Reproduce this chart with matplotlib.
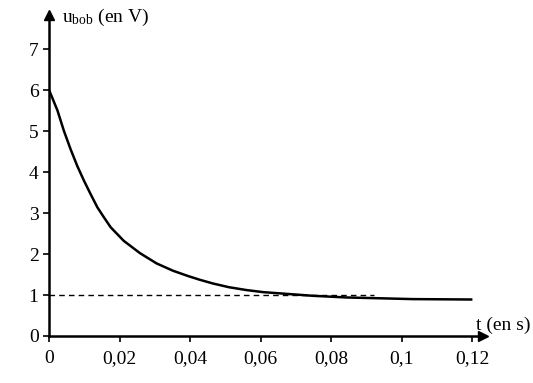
import matplotlib
matplotlib.use("Agg")
import matplotlib.pyplot as plt

plt.rcParams['font.family'] = ['Liberation Serif', 'DejaVu Serif']
plt.rcParams['mathtext.fontset'] = 'custom'
plt.rcParams['mathtext.rm'] = 'Liberation Serif'

# points (t in s, u in V)
t = [0.0, 0.0005, 0.0024, 0.0042, 0.0061, 0.008, 0.0099, 0.0118, 0.0137, 0.0156,
     0.0175, 0.0212, 0.0258, 0.0305, 0.0352, 0.0395, 0.0428, 0.0465, 0.051, 0.056,
     0.0607, 0.0654, 0.0749, 0.0843, 0.0938, 0.103, 0.12]
u = [6.0, 5.90, 5.50, 5.01, 4.56, 4.15, 3.79, 3.46, 3.14, 2.89,
     2.65, 2.32, 2.02, 1.77, 1.59, 1.46, 1.37, 1.28, 1.19, 1.12,
     1.07, 1.04, 0.98, 0.94, 0.92, 0.90, 0.89]

asymptote = 1.0
t_dash = [0.0, 0.092]

xticks = [0, 0.02, 0.04, 0.06, 0.08, 0.1, 0.12]
xlabels = ['0', '0,02', '0,04', '0,06', '0,08', '0,1', '0,12']
yticks = [0, 1, 2, 3, 4, 5, 6, 7]

fig = plt.figure(figsize=(5.33, 3.83), dpi=100)
ax = fig.add_axes([49/533, 47/383, 434/533, 321/383])

ax.plot(t, u, color='black', lw=1.8, solid_capstyle='butt', solid_joinstyle='round')
ax.plot(t_dash, [asymptote, asymptote], color='black', lw=1, ls=(0, (4, 3)))

ax.set_xlim(0, 0.123)
ax.set_ylim(0, 7.83)
ax.set_xticks(xticks)
ax.set_xticklabels(xlabels)
ax.set_yticks(yticks)
ax.tick_params(labelsize=14, direction='out', length=4, width=1.2, color='black')
ax.tick_params(axis='x', pad=6)

for s in ['top', 'right']:
    ax.spines[s].set_visible(False)
for s in ['left', 'bottom']:
    ax.spines[s].set_linewidth(1.8)

# arrows at the end of the axes
ax.plot(1, 0, '>k', ms=7, transform=ax.get_yaxis_transform(), clip_on=False)
ax.plot(0, 1, '^k', ms=7, transform=ax.get_xaxis_transform(), clip_on=False)

fig.text(62/533, 1 - 22/383, r'$\mathrm{u_{bob}}$ (en V)', fontsize=14, va='baseline')
fig.text(1 - 2/533, 1 - 330/383, 't (en s)', fontsize=14, ha='right', va='baseline')

fig.savefig('out.png', dpi=100)
